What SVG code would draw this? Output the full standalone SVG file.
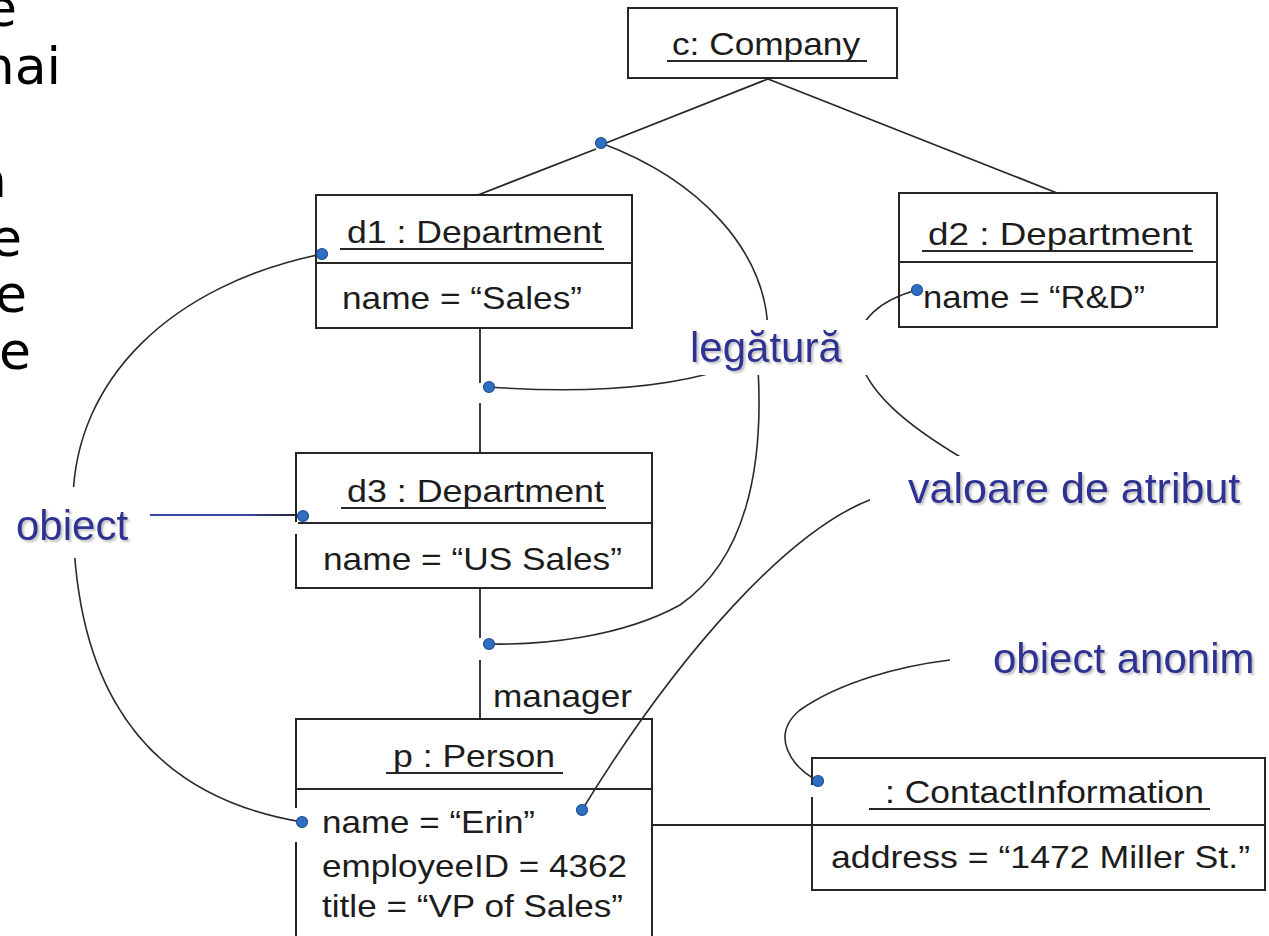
<svg xmlns="http://www.w3.org/2000/svg" width="1269" height="936" viewBox="0 0 1269 936">
  <defs>
    <style>
      .box { fill: #ffffff; stroke: #262626; stroke-width: 2; }
      .rule { stroke: #262626; stroke-width: 2; fill: none; }
      .link { stroke: #262626; stroke-width: 1.8; fill: none; }
      .lead { stroke: #2a2a2a; stroke-width: 1.6; fill: none; }
      .gap { stroke: #ffffff; stroke-width: 4; }
      .t { font-family: "Liberation Sans", Arial, sans-serif; font-size: 32px; fill: #1c1c1c; }
      .lbl { font-family: "Liberation Sans", Arial, sans-serif; font-size: 42px; fill: #2e3192; filter: url(#shadow); }
      .slide { font-family: "DejaVu Sans", Verdana, sans-serif; font-size: 52px; fill: #000000; }
      .dot { fill: #2f6fc2; stroke: #1d4f94; stroke-width: 1.2; }
      .pad { fill: #ffffff; }
    </style>
    <filter id="shadow" x="-10%" y="-20%" width="130%" height="150%">
      <feDropShadow dx="2" dy="2" stdDeviation="1" flood-color="#8a8a8a" flood-opacity="0.55"/>
    </filter>
    <linearGradient id="blueToBlack" x1="150" y1="0" x2="303" y2="0" gradientUnits="userSpaceOnUse">
      <stop offset="0" stop-color="#3b46a6"/>
      <stop offset="0.6" stop-color="#3b46a6"/>
      <stop offset="1" stop-color="#222222"/>
    </linearGradient>
  </defs>

  <rect width="1269" height="936" fill="#ffffff"/>

  <!-- slide text running off the left margin -->
  <g id="slide-text">
    <text class="slide" x="17" y="26" text-anchor="end">e</text>
    <text class="slide" x="61" y="84" text-anchor="end">mai</text>
    <text class="slide" x="7" y="197" text-anchor="end">a</text>
    <text class="slide" x="22" y="256" text-anchor="end">e</text>
    <text class="slide" x="27" y="312" text-anchor="end">e</text>
    <text class="slide" x="31" y="369" text-anchor="end">te</text>
  </g>

  <!-- links between objects -->
  <g id="connectors">
    <line class="link" x1="768" y1="79" x2="606" y2="143"/>
    <line class="link" x1="596" y1="149" x2="478" y2="195"/>
    <line class="link" x1="768" y1="79" x2="1057" y2="193"/>
    <line class="link" x1="480" y1="328" x2="480" y2="383"/>
    <line class="link" x1="480" y1="403" x2="480" y2="453"/>
    <line class="link" x1="480" y1="588" x2="480" y2="638"/>
    <line class="link" x1="480" y1="660" x2="480" y2="719"/>
    <line class="link" x1="652" y1="825" x2="812" y2="825"/>
  </g>

  <!-- objects -->
  <g id="company">
    <rect class="box" x="628" y="8" width="269" height="70"/>
    <text class="t" x="672" y="55" textLength="188" lengthAdjust="spacingAndGlyphs">c: Company</text>
    <line class="rule" x1="667" y1="61" x2="867" y2="61"/>
  </g>

  <g id="d1">
    <rect class="box" x="316" y="195" width="316" height="133"/>
    <line class="rule" x1="316" y1="263" x2="632" y2="263"/>
    <text class="t" x="347" y="243" textLength="255" lengthAdjust="spacingAndGlyphs">d1 : Department</text>
    <line class="rule" x1="340" y1="249" x2="604" y2="249"/>
    <text class="t" x="342" y="309" textLength="240" lengthAdjust="spacingAndGlyphs">name = “Sales”</text>
  </g>

  <g id="d2">
    <rect class="box" x="899" y="193" width="318" height="134"/>
    <line class="rule" x1="899" y1="262" x2="1217" y2="262"/>
    <text class="t" x="928" y="245" textLength="264" lengthAdjust="spacingAndGlyphs">d2 : Department</text>
    <line class="rule" x1="922" y1="251" x2="1193" y2="251"/>
    <text class="t" x="923" y="308" textLength="222" lengthAdjust="spacingAndGlyphs">name = “R&amp;D”</text>
  </g>

  <g id="d3">
    <rect class="box" x="296" y="453" width="356" height="135"/>
    <line class="rule" x1="296" y1="523" x2="652" y2="523"/>
    <line class="gap" x1="296" y1="522" x2="296" y2="534"/>
    <text class="t" x="347" y="502" textLength="257" lengthAdjust="spacingAndGlyphs">d3 : Department</text>
    <line class="rule" x1="341" y1="508" x2="606" y2="508"/>
    <text class="t" x="323" y="570" textLength="299" lengthAdjust="spacingAndGlyphs">name = “US Sales”</text>
  </g>

  <g id="person">
    <text class="t" x="493" y="707" textLength="139" lengthAdjust="spacingAndGlyphs">manager</text>
    <rect class="box" x="296" y="719" width="356" height="240"/>
    <line class="rule" x1="296" y1="789" x2="652" y2="789"/>
    <line class="gap" x1="296" y1="808" x2="296" y2="842"/>
    <text class="t" x="393" y="767" textLength="162" lengthAdjust="spacingAndGlyphs">p : Person</text>
    <line class="rule" x1="386" y1="773" x2="563" y2="773"/>
    <text class="t" x="322" y="833" textLength="213" lengthAdjust="spacingAndGlyphs">name = “Erin”</text>
    <text class="t" x="322" y="877" textLength="305" lengthAdjust="spacingAndGlyphs">employeeID = 4362</text>
    <text class="t" x="322" y="917" textLength="301" lengthAdjust="spacingAndGlyphs">title = “VP of Sales”</text>
  </g>

  <g id="contact">
    <rect class="box" x="812" y="758" width="453" height="132"/>
    <line class="rule" x1="812" y1="825" x2="1265" y2="825"/>
    <line class="gap" x1="812" y1="785" x2="812" y2="797"/>
    <text class="t" x="885" y="803" textLength="319" lengthAdjust="spacingAndGlyphs">: ContactInformation</text>
    <line class="rule" x1="869" y1="809" x2="1210" y2="809"/>
    <text class="t" x="831" y="868" textLength="419" lengthAdjust="spacingAndGlyphs">address = “1472 Miller St.”</text>
  </g>

  <!-- callout leaders -->
  <g id="leaders">
    <!-- object -->
    <path class="lead" d="M 322 254 C 170 285, 75 380, 73 500 C 71 640, 110 790, 302 822"/>
    <line x1="150" y1="515" x2="303" y2="515" stroke="url(#blueToBlack)" stroke-width="2"/>
    <!-- link -->
    <path class="lead" d="M 601 143 C 700 180, 765 250, 768 330"/>
    <path class="lead" d="M 489 387 C 560 392, 650 392, 722 370"/>
    <path class="lead" d="M 758 368 C 764 470, 745 560, 680 605 C 620 638, 540 645, 490 644"/>
    <!-- attribute value -->
    <path class="lead" d="M 917 290 C 880 300, 858 320, 858 345 C 858 390, 915 430, 962 458"/>
    <path class="lead" d="M 872 499 C 790 530, 680 650, 582 810"/>
    <!-- anonymous object -->
    <path class="lead" d="M 818 781 C 790 766, 770 735, 800 710 C 840 682, 900 666, 950 660"/>
  </g>

  <!-- callout labels on white pads -->
  <g id="label-obiect">
    <rect class="pad" x="0" y="487" width="148" height="71"/>
    <text class="lbl" x="16" y="540">obiect</text>
  </g>
  <g id="label-legatura">
    <rect class="pad" x="685" y="320" width="185" height="55"/>
    <text class="lbl" x="690" y="362">legătură</text>
  </g>
  <g id="label-valoare">
    <rect class="pad" x="870" y="456" width="399" height="71"/>
    <text class="lbl" x="908" y="503" style="font-size:43px">valoare de atribut</text>
  </g>
  <g id="label-anonim">
    <rect class="pad" x="950" y="630" width="319" height="60"/>
    <text class="lbl" x="993" y="673">obiect anonim</text>
  </g>

  <!-- anchor dots -->
  <g id="dots">
    <circle class="dot" cx="601" cy="143" r="5.5"/>
    <circle class="dot" cx="322" cy="254" r="5.5"/>
    <circle class="dot" cx="917" cy="290" r="5.5"/>
    <circle class="dot" cx="489" cy="387" r="5.5"/>
    <circle class="dot" cx="303" cy="516" r="5.5"/>
    <circle class="dot" cx="489" cy="644" r="5.5"/>
    <circle class="dot" cx="582" cy="810" r="5.5"/>
    <circle class="dot" cx="302" cy="822" r="5.5"/>
    <circle class="dot" cx="818" cy="781" r="5.5"/>
  </g>
</svg>
